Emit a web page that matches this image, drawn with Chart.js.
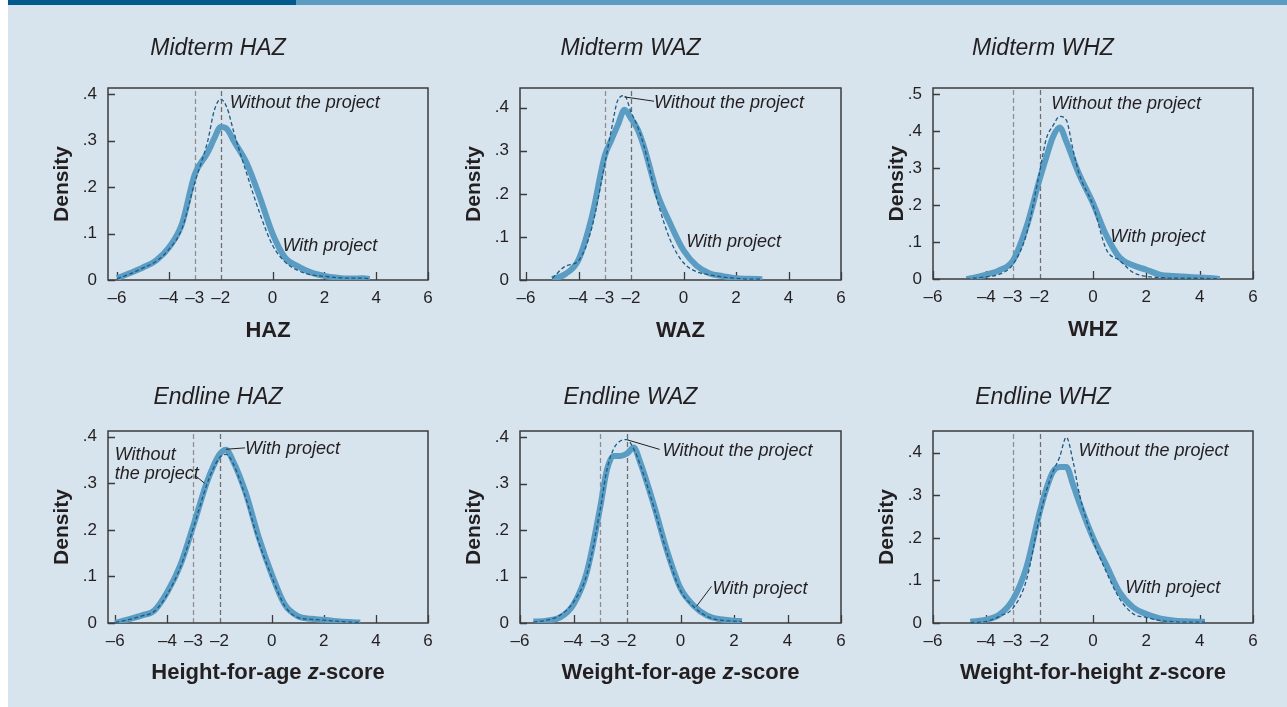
<!DOCTYPE html>
<html>
<head>
<meta charset="utf-8">
<title>Z-score densities</title>
<script src="https://cdn.jsdelivr.net/npm/chart.js@4.4.1/dist/chart.umd.min.js"></script>
<style>
  html, body { margin: 0; padding: 0; background: #fff; }
  #page { position: relative; width: 1287px; height: 707px; overflow: hidden; background: #fff; }
  #bg { position: absolute; left: 8px; top: 0; right: 0; bottom: 0; background: #d7e4ee; }
  #barDark { position: absolute; left: 8px; top: 0; width: 288px; height: 5px; background: #005a8c; }
  #barLight { position: absolute; left: 296px; top: 0; right: 0; height: 5px; background: #5b9bc1; }
  canvas { position: absolute; }
</style>
</head>
<body>
<div id="page">
  <div id="bg"></div>
  <div id="barDark"></div>
  <div id="barLight"></div>
  <canvas id="c1"></canvas>
  <canvas id="c2"></canvas>
  <canvas id="c3"></canvas>
  <canvas id="c4"></canvas>
  <canvas id="c5"></canvas>
  <canvas id="c6"></canvas>
</div>
<script>
// tick labels on the axes
const xTickVals = [-6, -4, -3, -2, 0, 2, 4, 6];
const xTickMarks = [-6, -4, 0, 2, 4, 6];
const cutoffs = [-3, -2];
const yTicks4 = [0, 0.1, 0.2, 0.3, 0.4];
const yTicks5 = [0, 0.1, 0.2, 0.3, 0.4, 0.5];

// Midterm HAZ
const hazMidX = [-6, -5.5, -5, -4.5, -4, -3.5, -3, -2.5, -2.25, -2, -1.75, -1.5, -1, -0.5, 0, 0.5, 1, 1.5, 2, 2.5, 3, 3.5, 3.75];
const hazMidWith = [0.004, 0.015, 0.027, 0.042, 0.07, 0.12, 0.228, 0.275, 0.305, 0.33, 0.325, 0.30, 0.252, 0.18, 0.10, 0.047, 0.029, 0.016, 0.009, 0.005, 0.003, 0.004, 0.002];
const hazMidWithout = [0.003, 0.013, 0.026, 0.04, 0.066, 0.11, 0.21, 0.30, 0.365, 0.39, 0.37, 0.32, 0.23, 0.145, 0.075, 0.038, 0.02, 0.011, 0.008, 0.005, 0.004, 0.004, 0.002];

// Midterm WAZ
const wazMidX = [-5, -4.5, -4, -3.5, -3, -2.75, -2.5, -2.25, -2, -1.75, -1.5, -1, -0.5, 0, 0.5, 1, 1.5, 2, 2.5, 3];
const wazMidWith = [0.002, 0.014, 0.047, 0.145, 0.288, 0.325, 0.36, 0.395, 0.375, 0.35, 0.308, 0.20, 0.13, 0.069, 0.033, 0.015, 0.009, 0.004, 0.003, 0.002];
const wazMidWithout = [0.004, 0.032, 0.045, 0.12, 0.27, 0.348, 0.418, 0.428, 0.39, 0.356, 0.31, 0.185, 0.092, 0.04, 0.019, 0.012, 0.007, 0.004, 0.002, 0.002];

// Midterm WHZ
const whzMidX = [-4.75, -4.5, -4, -3.5, -3, -2.5, -2, -1.75, -1.5, -1.25, -1, -0.75, -0.5, 0, 0.5, 1, 1.5, 2, 2.5, 3, 3.5, 4, 4.5, 4.75];
const whzMidWith = [0.0, 0.003, 0.012, 0.024, 0.05, 0.14, 0.27, 0.33, 0.385, 0.41, 0.372, 0.325, 0.28, 0.205, 0.118, 0.058, 0.037, 0.025, 0.012, 0.008, 0.006, 0.004, 0.002, 0.0];
const whzMidWithout = [0.0, 0.002, 0.006, 0.013, 0.04, 0.12, 0.29, 0.38, 0.415, 0.44, 0.43, 0.35, 0.28, 0.20, 0.08, 0.05, 0.018, 0.007, 0.004, 0.002, 0.002, 0.002, 0.001, 0.0];

// Endline HAZ
const hazEndX = [-6, -5.5, -5, -4.5, -4, -3.5, -3, -2.5, -2.25, -2, -1.75, -1.5, -1, -0.5, 0, 0.5, 1, 1.5, 2, 2.5, 3, 3.4];
const hazEndWith = [0.0, 0.008, 0.016, 0.027, 0.067, 0.125, 0.21, 0.30, 0.335, 0.362, 0.372, 0.35, 0.28, 0.185, 0.105, 0.04, 0.015, 0.009, 0.007, 0.004, 0.002, 0.001];
const hazEndWithout = [0.001, 0.007, 0.015, 0.025, 0.062, 0.12, 0.205, 0.295, 0.33, 0.355, 0.362, 0.345, 0.27, 0.175, 0.10, 0.037, 0.012, 0.008, 0.006, 0.004, 0.002, 0.001];

// Endline WAZ
const wazEndX = [-5.5, -5, -4.5, -4, -3.5, -3, -2.75, -2.5, -2.25, -2, -1.75, -1.5, -1, -0.5, 0, 0.5, 1, 1.5, 2, 2.3];
const wazEndWith = [0.003, 0.005, 0.012, 0.04, 0.11, 0.25, 0.33, 0.36, 0.36, 0.365, 0.378, 0.345, 0.255, 0.155, 0.075, 0.037, 0.016, 0.008, 0.005, 0.004];
const wazEndWithout = [0.002, 0.006, 0.017, 0.045, 0.105, 0.245, 0.33, 0.375, 0.392, 0.395, 0.375, 0.34, 0.25, 0.15, 0.07, 0.035, 0.014, 0.006, 0.004, 0.003];

// Endline WHZ
const whzEndX = [-4.6, -4, -3.5, -3, -2.5, -2, -1.75, -1.5, -1.25, -1, -0.75, -0.5, 0, 0.5, 1, 1.5, 2, 2.5, 3, 3.5, 4, 4.2];
const whzEndWith = [0.003, 0.008, 0.02, 0.055, 0.13, 0.26, 0.315, 0.355, 0.366, 0.366, 0.325, 0.28, 0.2, 0.136, 0.072, 0.037, 0.021, 0.011, 0.006, 0.004, 0.003, 0.003];
const whzEndWithout = [0.001, 0.004, 0.016, 0.035, 0.1, 0.25, 0.31, 0.355, 0.39, 0.436, 0.38, 0.30, 0.195, 0.12, 0.057, 0.022, 0.013, 0.006, 0.003, 0.002, 0.002, 0.002];

const FONT = '"Liberation Sans Narrow", "Arial Narrow", "Liberation Sans", Arial, sans-serif';
const INK = '#231f20';
const WITH_COLOR = '#5b9cc3';
const WITHOUT_COLOR = '#1d5a85';

// box = plot frame in page pixels
const panels = [
  { id: 'c1', title: 'Midterm HAZ', xTitle: ['HAZ'], box: [108, 88, 320, 192], xMin: -6.35, xMax: 6, yMax: 0.4138, yTicks: yTicks4,
    xs: hazMidX, withP: hazMidWith, without: hazMidWithout, titleTop: 37, densityOff: 46, xTitleOff: 51,
    notes: [['Without the project', -1.65, 0.381], ['With project', 0.38, 0.073]], leaders: [] },
  { id: 'c2', title: 'Midterm WAZ', xTitle: ['WAZ'], box: [520, 88, 321, 192], xMin: -6.23, xMax: 6, yMax: 0.4457, yTicks: yTicks4,
    xs: wazMidX, withP: wazMidWith, without: wazMidWithout, titleTop: 37, densityOff: 46, xTitleOff: 51,
    notes: [['Without the project', -1.12, 0.41], ['With project', 0.1, 0.089]], leaders: [[-2.25, 0.425, -1.12, 0.415]] },
  { id: 'c3', title: 'Midterm WHZ', xTitle: ['WHZ'], box: [933, 88, 320, 191], xMin: -6, xMax: 6, yMax: 0.517, yTicks: yTicks5,
    xs: whzMidX, withP: whzMidWith, without: whzMidWithout, titleTop: 37, densityOff: 36, xTitleOff: 51,
    notes: [['Without the project', -1.57, 0.474], ['With project', 0.65, 0.115]], leaders: [] },
  { id: 'c4', title: 'Endline HAZ', xTitle: ['Height-for-age ', 'z', '-score'], box: [108, 431, 320, 192], xMin: -6.28, xMax: 6, yMax: 0.4122, yTicks: yTicks4,
    xs: hazEndX, withP: hazEndWith, without: hazEndWithout, titleTop: 43, densityOff: 46, xTitleOff: 50,
    notes: [['Without', -6.02, 0.361], ['the project', -6.02, 0.32], ['With project', -1.02, 0.373]],
    leaders: [[-2.95, 0.317, -2.57, 0.30], [-1.75, 0.373, -1.02, 0.376]] },
  { id: 'c5', title: 'Endline WAZ', xTitle: ['Weight-for-age ', 'z', '-score'], box: [520, 431, 321, 192], xMin: -6, xMax: 6, yMax: 0.4136, yTicks: yTicks4,
    xs: wazEndX, withP: wazEndWith, without: wazEndWithout, titleTop: 43, densityOff: 46, xTitleOff: 50,
    notes: [['Without the project', -0.67, 0.371], ['With project', 1.2, 0.073]],
    leaders: [[-1.96, 0.394, -0.78, 0.374], [0.6, 0.036, 1.16, 0.079]] },
  { id: 'c6', title: 'Endline WHZ', xTitle: ['Weight-for-height ', 'z', '-score'], box: [933, 431, 320, 192], xMin: -6, xMax: 6, yMax: 0.4508, yTicks: yTicks4,
    xs: whzEndX, withP: whzEndWith, without: whzEndWithout, titleTop: 43, densityOff: 46, xTitleOff: 50,
    notes: [['Without the project', -0.54, 0.405], ['With project', 1.21, 0.082]], leaders: [] }
];

const LEFT = 100, TOP = 88, RIGHT = 20, BOTTOM = 70;

function fmtX(v) {
  return v < 0 ? '\u2013' + Math.abs(v) : String(v);
}

function fmtY(v) {
  return v === 0 ? '0' : '.' + Math.round(v * 10);
}

// frame, inward ticks, cut-off lines, notes and the x title
function decorPlugin(p) {
  return {
    id: 'decor',
    beforeDatasetsDraw(chart) {
      const { ctx, chartArea: a, scales: { x, y } } = chart;
      ctx.save();
      ctx.lineWidth = 1.3;
      ctx.setLineDash([5, 3]);
      cutoffs.forEach((c, i) => {
        ctx.strokeStyle = i === 0 ? '#8e8e8e' : '#6e6e6e';
        const px = Math.round(x.getPixelForValue(c)) + 0.5;
        ctx.beginPath();
        ctx.moveTo(px, a.bottom);
        ctx.lineTo(px, a.top);
        ctx.stroke();
      });
      ctx.setLineDash([]);
      ctx.strokeStyle = '#3b3b3b';
      ctx.lineWidth = 1.5;
      ctx.strokeRect(a.left, a.top, a.right - a.left, a.bottom - a.top);
      ctx.lineWidth = 1.3;
      ctx.beginPath();
      xTickMarks.forEach(v => {
        const px = Math.round(x.getPixelForValue(v)) + 0.5;
        ctx.moveTo(px, a.bottom);
        ctx.lineTo(px, a.bottom - 8);
      });
      y.ticks.forEach(t => {
        const py = Math.round(y.getPixelForValue(t.value)) + 0.5;
        ctx.moveTo(a.left, py);
        ctx.lineTo(a.left + 7, py);
      });
      ctx.stroke();
      ctx.restore();
    },
    afterDatasetsDraw(chart) {
      const { ctx, chartArea: a, scales: { x, y } } = chart;
      ctx.save();
      ctx.strokeStyle = '#231f20';
      ctx.lineWidth = 1;
      p.leaders.forEach(l => {
        ctx.beginPath();
        ctx.moveTo(x.getPixelForValue(l[0]), y.getPixelForValue(l[1]));
        ctx.lineTo(x.getPixelForValue(l[2]), y.getPixelForValue(l[3]));
        ctx.stroke();
      });
      ctx.fillStyle = INK;
      ctx.font = 'italic 18px ' + FONT;
      ctx.textAlign = 'left';
      ctx.textBaseline = 'middle';
      p.notes.forEach(n => {
        ctx.fillText(n[0], x.getPixelForValue(n[1]), y.getPixelForValue(n[2]));
      });

      // x axis title, with an italic z
      const fonts = p.xTitle.map((s, i) => (i % 2 ? 'italic bold 22px ' : 'bold 22px ') + FONT);
      let total = 0;
      const widths = p.xTitle.map((s, i) => {
        ctx.font = fonts[i];
        const w = ctx.measureText(s).width;
        total += w;
        return w;
      });
      let cx = (a.left + a.right) / 2 - total / 2;
      const cy = a.bottom + p.xTitleOff;
      p.xTitle.forEach((s, i) => {
        ctx.font = fonts[i];
        ctx.fillText(s, cx, cy);
        cx += widths[i];
      });
      ctx.restore();
    }
  };
}

function makeChart(p) {
  const canvas = document.getElementById(p.id);
  const [bx, by, bw, bh] = p.box;
  canvas.width = LEFT + bw + RIGHT;
  canvas.height = TOP + bh + BOTTOM;
  canvas.style.left = (bx - LEFT) + 'px';
  canvas.style.top = (by - TOP) + 'px';

  const withData = p.xs.map((v, i) => ({ x: v, y: p.withP[i] }));
  const withoutData = p.xs.map((v, i) => ({ x: v, y: p.without[i] }));

  return new Chart(canvas, {
    type: 'line',
    data: {
      datasets: [
        {
          label: 'Without the project',
          data: withoutData,
          borderColor: WITHOUT_COLOR,
          borderWidth: 1.3,
          borderDash: [4, 2.5],
          pointRadius: 0,
          cubicInterpolationMode: 'monotone',
          order: 0
        },
        {
          label: 'With project',
          data: withData,
          borderColor: WITH_COLOR,
          borderWidth: 6,
          borderJoinStyle: 'round',
          pointRadius: 0,
          cubicInterpolationMode: 'monotone',
          order: 1
        }
      ]
    },
    options: {
      responsive: false,
      animation: false,
      devicePixelRatio: 1,
      layout: { padding: { left: 0, top: 0, right: RIGHT, bottom: 0 } },
      plugins: {
        legend: { display: false },
        tooltip: { enabled: false },
        title: {
          display: true,
          text: p.title,
          color: INK,
          font: { family: FONT, size: 23, style: 'italic', weight: 'normal', lineHeight: 1 },
          padding: { top: p.titleTop, bottom: TOP - p.titleTop - 23 }
        }
      },
      scales: {
        x: {
          type: 'linear',
          min: p.xMin,
          max: p.xMax,
          grid: { display: false, drawTicks: false },
          border: { display: false },
          ticks: {
            color: INK,
            font: { family: FONT, size: 17, lineHeight: 1 },
            padding: 10,
            maxRotation: 0,
            autoSkip: false,
            callback: v => fmtX(v)
          },
          afterBuildTicks: s => { s.ticks = xTickVals.map(v => ({ value: v })); },
          afterFit: s => { s.height = BOTTOM; }
        },
        y: {
          min: 0,
          max: p.yMax,
          grid: { display: false, drawTicks: false },
          border: { display: false },
          ticks: {
            color: INK,
            font: { family: FONT, size: 17, lineHeight: 1 },
            padding: 11,
            callback: v => fmtY(v)
          },
          title: {
            display: true,
            text: 'Density',
            color: INK,
            font: { family: FONT, size: 21, weight: 'bold', lineHeight: 1 },
            padding: { top: LEFT - p.densityOff - 10.5, bottom: 0 }
          },
          afterBuildTicks: s => { s.ticks = p.yTicks.map(v => ({ value: v })); },
          afterFit: s => { s.width = LEFT; }
        }
      }
    },
    plugins: [decorPlugin(p)]
  });
}

document.addEventListener('DOMContentLoaded', () => {
  Chart.defaults.font.family = FONT;
  panels.forEach(makeChart);
});
</script>
</body>
</html>
